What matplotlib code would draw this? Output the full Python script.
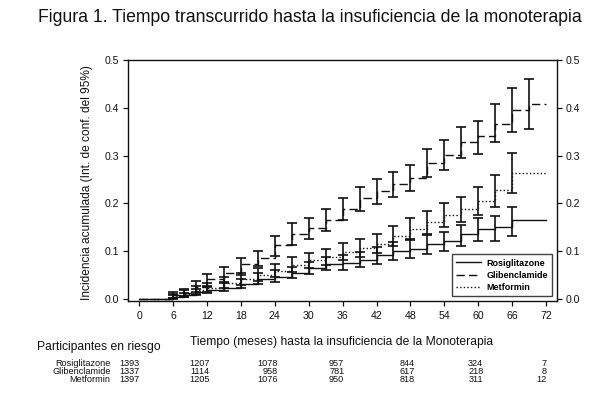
import matplotlib
matplotlib.use("Agg")
import matplotlib.pyplot as plt
from matplotlib import font_manager
import matplotlib.transforms as mtransforms

# ---------------- data ----------------
step_times = [0, 6, 8, 10, 12, 15, 18, 21, 24, 27, 30, 33, 36, 39, 42, 45, 48, 51, 54, 57, 60, 63, 66, 69]
end_time = 72

rosi = [0, 0.004, 0.008, 0.014, 0.019, 0.024, 0.032, 0.042, 0.047, 0.054, 0.065, 0.074, 0.076, 0.082,
        0.091, 0.100, 0.104, 0.115, 0.122, 0.135, 0.147, 0.150, 0.165, 0.165]
rosi_lo = [None, 0.001, 0.004, 0.008, 0.012, 0.016, 0.022, 0.031, 0.036, 0.043, 0.052, 0.060, 0.061, 0.066,
           0.074, 0.082, 0.085, 0.094, 0.100, 0.110, 0.121, 0.122, 0.131, None]
rosi_hi = [None, 0.008, 0.013, 0.021, 0.027, 0.033, 0.042, 0.054, 0.060, 0.067, 0.078, 0.088, 0.092, 0.099,
           0.108, 0.119, 0.125, 0.134, 0.141, 0.155, 0.170, 0.174, 0.192, None]

glib = [0, 0.008, 0.013, 0.025, 0.041, 0.054, 0.073, 0.086, 0.113, 0.136, 0.149, 0.165, 0.188, 0.211,
        0.225, 0.240, 0.254, 0.284, 0.302, 0.328, 0.340, 0.366, 0.395, 0.407]
glib_lo = [None, 0.003, 0.006, 0.015, 0.025, 0.036, 0.050, 0.068, 0.090, 0.112, 0.125, 0.143, 0.165, 0.185,
           0.199, 0.213, 0.225, 0.256, 0.270, 0.294, 0.303, 0.328, 0.350, 0.355]
glib_hi = [None, 0.014, 0.021, 0.037, 0.052, 0.067, 0.086, 0.100, 0.132, 0.158, 0.170, 0.189, 0.211, 0.235,
           0.251, 0.265, 0.280, 0.313, 0.333, 0.360, 0.373, 0.408, 0.441, 0.460]

metf = [0, 0.006, 0.011, 0.018, 0.024, 0.033, 0.041, 0.050, 0.059, 0.071, 0.081, 0.088, 0.099, 0.106,
        0.116, 0.131, 0.147, 0.161, 0.176, 0.189, 0.205, 0.227, 0.263, 0.263]
metf_lo = [None, 0.002, 0.005, 0.011, 0.015, 0.022, 0.029, 0.037, 0.045, 0.056, 0.065, 0.071, 0.081, 0.087,
           0.096, 0.110, 0.124, 0.136, 0.151, 0.162, 0.176, 0.193, 0.222, None]
metf_hi = [None, 0.011, 0.018, 0.027, 0.034, 0.045, 0.054, 0.064, 0.074, 0.087, 0.097, 0.105, 0.117, 0.125,
           0.135, 0.152, 0.170, 0.184, 0.201, 0.214, 0.234, 0.260, 0.306, None]

series_names = ["Rosiglitazone", "Glibenclamide", "Metformin"]
risk_times = [0, 12, 24, 36, 48, 60, 72]
risk_rosi = [1393, 1207, 1078, 957, 844, 324, 7]
risk_glib = [1337, 1114, 958, 781, 617, 218, 8]
risk_metf = [1397, 1205, 1076, 950, 818, 311, 12]

x_ticks = [0, 6, 12, 18, 24, 30, 36, 42, 48, 54, 60, 66, 72]
y_ticks = [0.0, 0.1, 0.2, 0.3, 0.4, 0.5]

title = "Figura 1. Tiempo transcurrido hasta la insuficiencia de la monoterapia"
ylabel = "Incidencia acumulada (Int. de conf. del 95%)"
xlabel = "Tiempo (meses) hasta la insuficiencia de la Monoterapia"
risk_title = "Participantes en riesgo"

# ---------------- fonts ----------------
avail = {f.name for f in font_manager.fontManager.ttflist}
narrow = ["Liberation Sans Narrow", "Liberation Sans"] if "Liberation Sans Narrow" in avail else ["Liberation Sans"]
regular = ["Liberation Sans", "DejaVu Sans"]
plt.rcParams["font.family"] = regular
plt.rcParams["lines.scale_dashes"] = False

W, H = 609, 407
fig = plt.figure(figsize=(W / 100, H / 100), dpi=100)
fig.patch.set_facecolor("white")
ax = fig.add_axes([128 / W, 1 - 301 / H, (557 - 128) / W, (301 - 60) / H])

col = "#111111"
styles = [
    dict(linestyle="-", lw=1.0),
    dict(linestyle=(0, (6, 3)), lw=1.0),
    dict(linestyle=(0, (1, 1.6)), lw=1.0),
]
data = [(rosi, rosi_lo, rosi_hi), (glib, glib_lo, glib_hi), (metf, metf_lo, metf_hi)]
handles = []
for name, (vals, lo, hi), st in zip(series_names, data, styles):
    xs = list(step_times) + [end_time]
    ys = list(vals) + [vals[-1]]
    h, = ax.step(xs, ys, where="post", color=col, label=name, **st)
    handles.append(h)
    ex, ey, el, eh = [], [], [], []
    for t, v, a, b in zip(step_times, vals, lo, hi):
        if a is None:
            continue
        ex.append(t); ey.append(v); el.append(v - a); eh.append(b - v)
    ax.errorbar(ex, ey, yerr=[el, eh], fmt="none", ecolor=col, elinewidth=1.2,
                capsize=3.3, capthick=1.2)

ax.set_xlim(-2, 73.95)
ax.set_ylim(-0.0042, 0.5)
ax.set_xticks(x_ticks)
ax.set_yticks(y_ticks)
ax.set_xticklabels([str(t) for t in x_ticks], fontfamily=narrow, fontsize=7.6)
ax.set_yticklabels(["%.1f" % v for v in y_ticks], fontfamily=narrow, fontsize=7.6)
ax.tick_params(axis="both", direction="out", length=3.5, width=0.9, color=col, labelcolor=col)
ax.tick_params(axis="x", pad=4)
ax.tick_params(axis="y", pad=3, right=True, labelright=True)
for s in ax.spines.values():
    s.set_linewidth(1.0)
    s.set_color(col)

leg = ax.legend(handles=handles, loc="lower right", bbox_to_anchor=(0.988, 0.021),
                borderaxespad=0, frameon=True, fancybox=False, handlelength=2.7,
                handletextpad=0.6, labelspacing=0.35, borderpad=0.45,
                prop=dict(family=narrow, size=6.5, weight="bold"))
leg.get_frame().set_edgecolor(col)
leg.get_frame().set_linewidth(1.0)

fig.text(309.5 / W, 1 - 18 / H, title, ha="center", va="center", fontsize=12.7, color=col)
fig.text(86.7 / W, 1 - 183 / H, ylabel, ha="center", va="center", rotation=90, fontsize=8.6, color=col)
fig.text(341.3 / W, 1 - 341.7 / H, xlabel, ha="center", va="center", fontsize=8.7, color=col)
fig.text(37.3 / W, 1 - 347.3 / H, risk_title, ha="left", va="center", fontsize=8.7, color=col)

trans = mtransforms.blended_transform_factory(ax.transData, fig.transFigure)
col_right = [0, 12.5, 24.5, 36.3, 48.8, 60.9, 72.1]
row_y = [364, 371.5, 379]
for name, counts, yy in zip(series_names, [risk_rosi, risk_glib, risk_metf], row_y):
    fig.text(110.7 / W, 1 - yy / H, name, ha="right", va="center", fontfamily=narrow, fontsize=6.6, color=col)
    for xr, c in zip(col_right, counts):
        ax.text(xr, 1 - yy / H, str(c), transform=trans, ha="right", va="center",
                fontfamily=narrow, fontsize=6.6, color=col, clip_on=False)

fig.savefig("out.png", dpi=100, facecolor="white")
